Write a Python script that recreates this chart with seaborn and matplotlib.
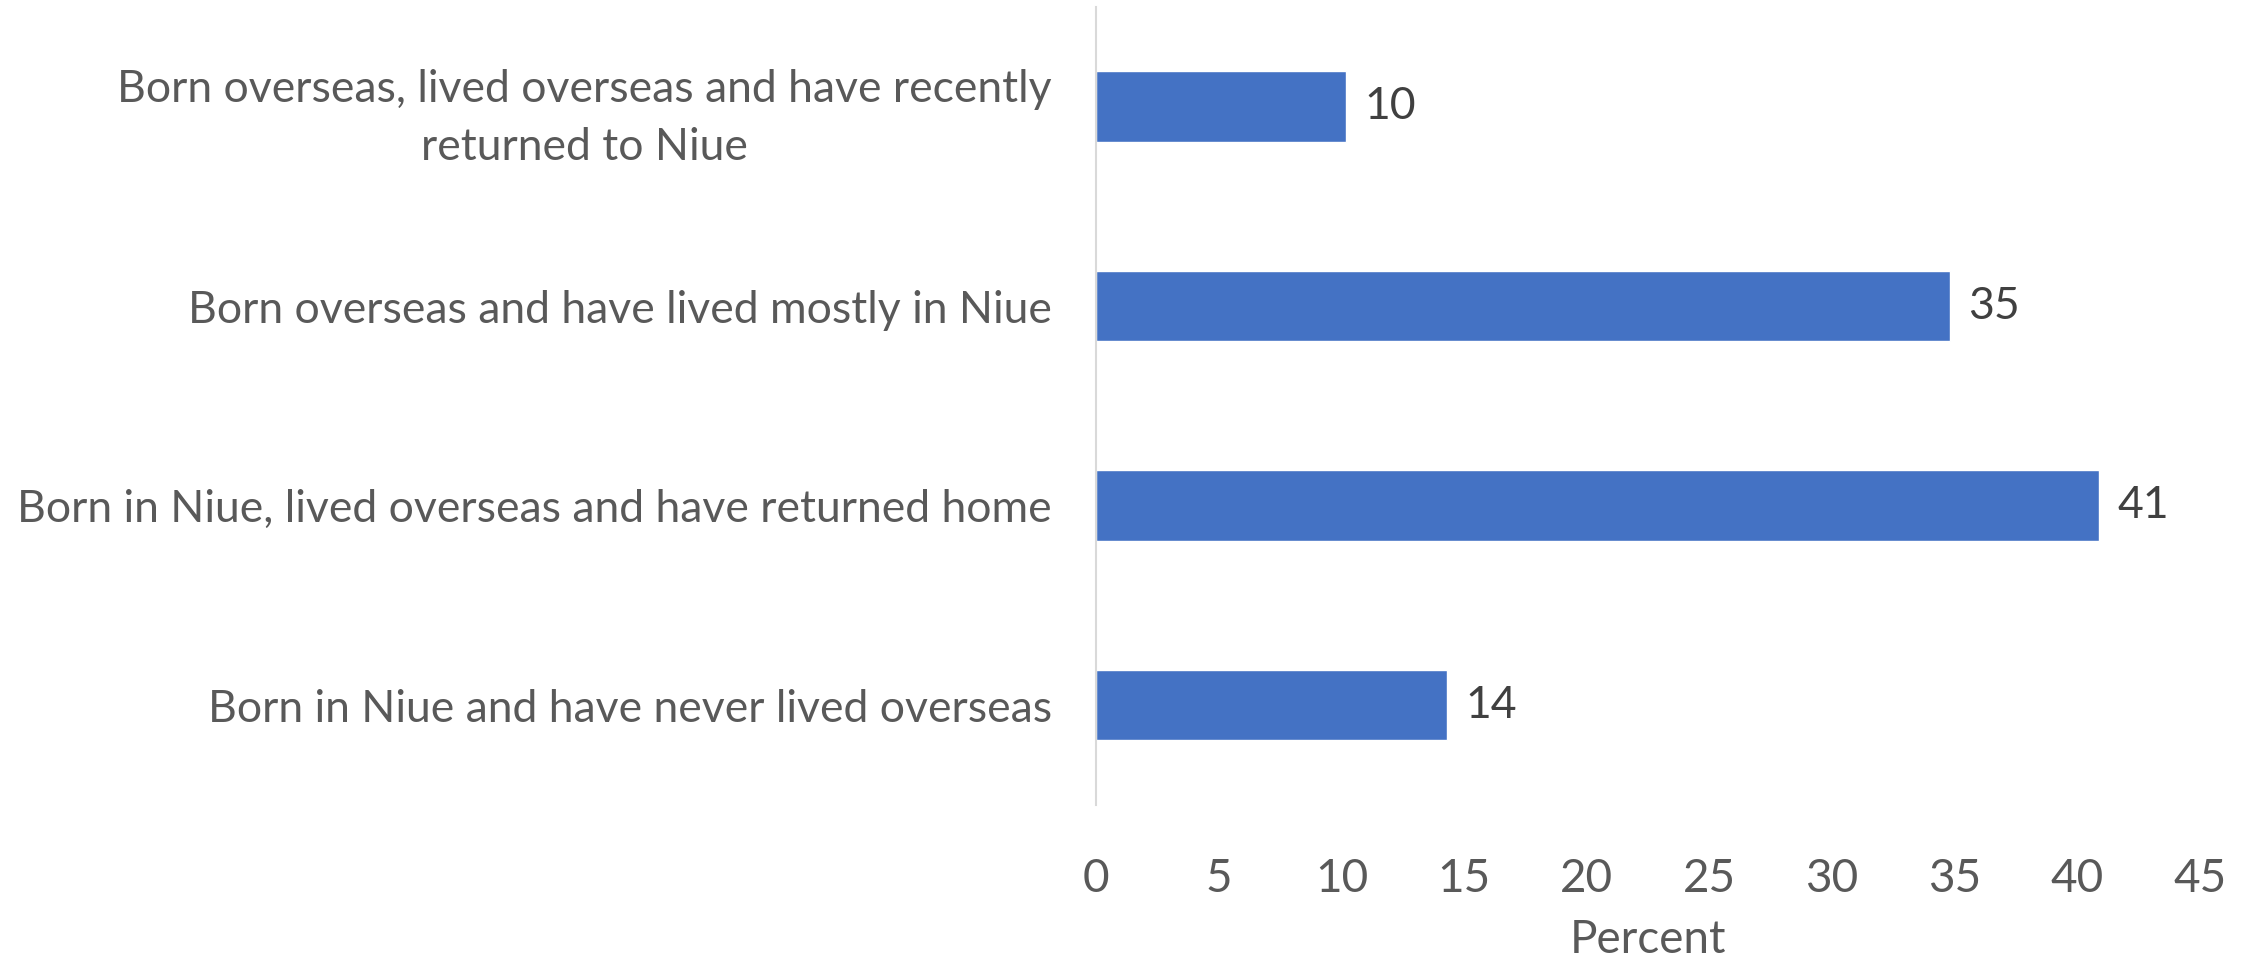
import pandas as pd
import seaborn as sns
import matplotlib.pyplot as plt

# values (percent)
categories = [
    "Born overseas, lived overseas and have recently\nreturned to Niue",
    "Born overseas and have lived mostly in Niue",
    "Born in Niue, lived overseas and have returned home",
    "Born in Niue and have never lived overseas",
]
percent = [10.2, 34.8, 40.9, 14.3]
x_ticks = [0, 5, 10, 15, 20, 25, 30, 35, 40, 45]

df = pd.DataFrame({"category": categories, "percent": percent})

sns.set_style("white")
plt.rcParams['font.family'] = ['Lato', 'DejaVu Sans']

fig = plt.figure(figsize=(22.54, 9.57), dpi=100)
ax = fig.add_axes([0.4863, 0.159, 0.4897, 0.834])

sns.barplot(data=df, x="percent", y="category", orient="h", color="#4472c4",
            saturation=1, width=0.355, ax=ax)

for i, v in enumerate(percent):
    ax.text(v + 0.75, i, f"{v:.0f}", va="center", ha="left",
            fontsize=32, color="#404040")

ax.set_xlim(0, 45)
ax.set_ylim(3.5, -0.5)
ax.set_xticks(x_ticks)
ax.set_xticklabels([str(t) for t in x_ticks])
ax.tick_params(axis="x", length=0, pad=38, labelsize=33, labelcolor="#595959")
ax.tick_params(axis="y", length=0, pad=32, labelsize=32, labelcolor="#595959")
for lbl in ax.get_yticklabels():
    lbl.set_multialignment("center")
    lbl.set_linespacing(1.5)

ax.set_xlabel("Percent", fontsize=33, color="#595959", labelpad=14)
ax.set_ylabel("")

for side in ["top", "right", "bottom"]:
    ax.spines[side].set_visible(False)
ax.spines["left"].set_color("#d9d9d9")
ax.spines["left"].set_linewidth(1.5)

fig.savefig("out.png", dpi=100)
